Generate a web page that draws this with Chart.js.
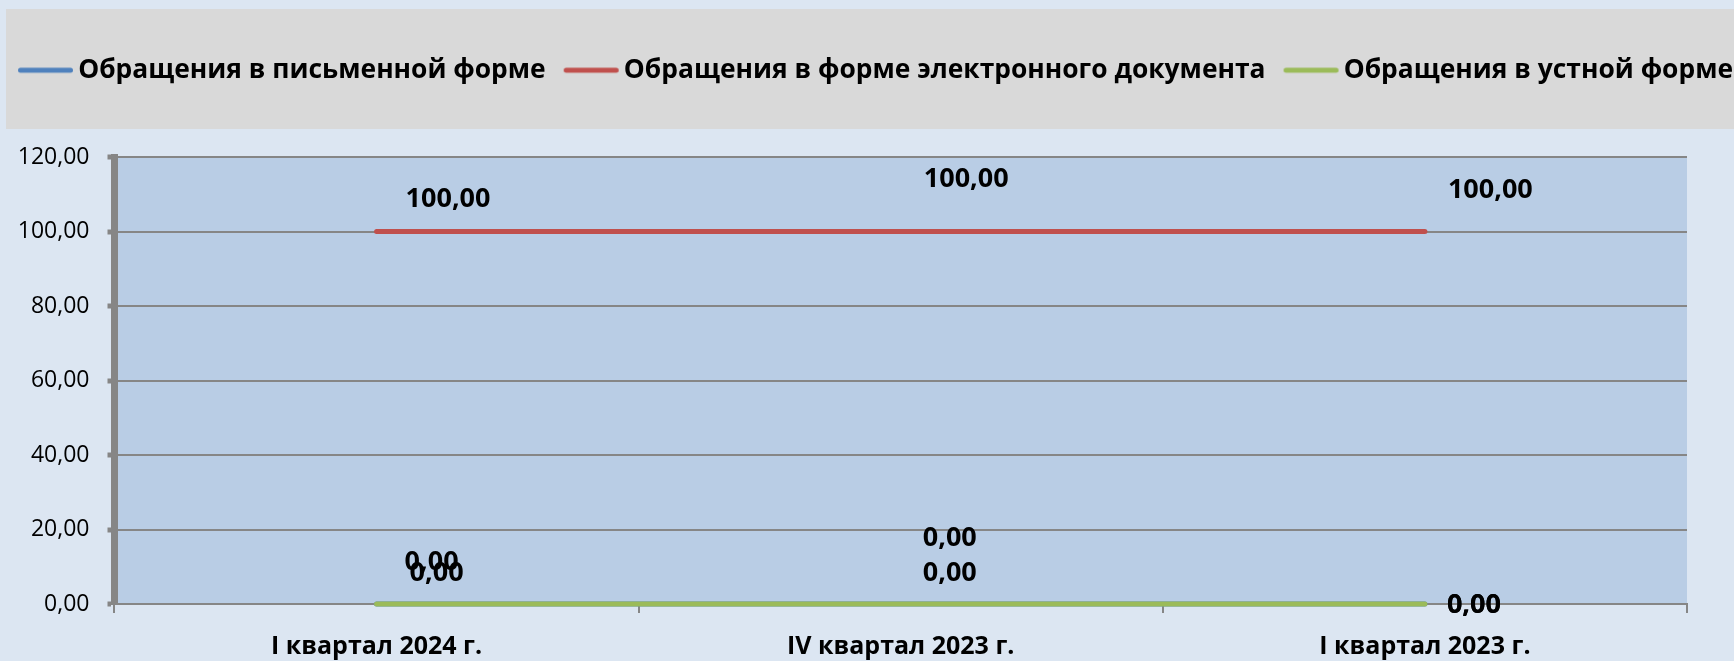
<!DOCTYPE html>
<html>
<head>
<meta charset="utf-8">
<script src="https://cdn.jsdelivr.net/npm/chart.js@4/dist/chart.umd.min.js"></script>
<style>
  html, body { margin: 0; padding: 0; background: #dce6f2; }
  #wrap { width: 1734px; height: 661px; }
</style>
</head>
<body>
<div id="wrap"><canvas id="c" width="1734" height="661"></canvas></div>
<script>
const categories = ['I квартал 2024 г.', 'IV квартал 2023 г.', 'I квартал 2023 г.'];
const seriesNames = ['Обращения в письменной форме', 'Обращения в форме электронного документа', 'Обращения в устной форме'];
const writtenValues = [0, 0, 0];
const electronicValues = [100, 100, 100];
const oralValues = [0, 0, 0];
const yTicks = [0, 20, 40, 60, 80, 100, 120];
const seriesColors = ['#4f81bd', '#c0504d', '#9bbb59'];

const fmt = v => v.toFixed(2).replace('.', ',');
const FONT = '"Open Sans", "Noto Sans", sans-serif';

// label offsets (px) relative to each point: [dx to left edge, dy to text centre]
const labelOffsets = [
  [[28, -42], [22, -66], [22, 1]],
  [[29, -32], [23, -52], [23, -41]],
  [[33, -31], [22, -31], [22, 1]]
];

// legend line sample drawn as small canvas (shifted so the gap to text matches)
function legendLine(color) {
  const c = document.createElement('canvas');
  c.width = 66; c.height = 10;
  const g = c.getContext('2d');
  g.strokeStyle = color;
  g.lineWidth = 5;
  g.lineCap = 'round';
  g.beginPath();
  g.moveTo(12.5, 5);
  g.lineTo(62.5, 5);
  g.stroke();
  return c;
}
const legendImages = seriesColors.map(legendLine);

const bgPlugin = {
  id: 'bg',
  beforeDraw(chart) {
    const ctx = chart.ctx;
    ctx.save();
    ctx.fillStyle = '#dce6f2';
    ctx.fillRect(0, 0, chart.width, chart.height);
    ctx.fillStyle = '#d9d9d9';
    ctx.fillRect(6, 9, chart.width - 6, 120);
    const a = chart.chartArea;
    ctx.fillStyle = '#b9cde5';
    ctx.fillRect(a.left, a.top, a.right - a.left, a.bottom - a.top);
    ctx.restore();
  }
};

const legendSpace = {
  id: 'legendSpace',
  beforeInit(chart) {
    const orig = chart.legend.fit;
    chart.legend.fit = function () {
      this.maxWidth = 2000;
      orig.bind(this)();
      this.height = 117;
    };
  },
  afterLayout(chart) {
    chart.legend.right = 2000;
    chart.legend.width = 2000 - chart.legend.left;
  }
};

const labelPlugin = {
  id: 'valueLabels',
  afterDatasetsDraw(chart) {
    const ctx = chart.ctx;
    ctx.save();
    ctx.font = 'bold 27px ' + FONT;
    ctx.fillStyle = '#000000';
    ctx.textAlign = 'left';
    ctx.textBaseline = 'middle';
    chart.data.datasets.forEach((ds, di) => {
      const meta = chart.getDatasetMeta(di);
      meta.data.forEach((pt, i) => {
        const off = labelOffsets[di][i];
        ctx.fillText(fmt(ds.data[i]), pt.x + off[0], pt.y + off[1]);
      });
    });
    ctx.restore();
  }
};

new Chart(document.getElementById('c'), {
  type: 'line',
  data: {
    labels: categories,
    datasets: [
      { label: seriesNames[0], data: writtenValues, borderColor: seriesColors[0], backgroundColor: seriesColors[0], borderWidth: 5, clip: false, order: 2 },
      { label: seriesNames[1], data: electronicValues, borderColor: seriesColors[1], backgroundColor: seriesColors[1], borderWidth: 5, clip: false, order: 1 },
      { label: seriesNames[2], data: oralValues, borderColor: seriesColors[2], backgroundColor: seriesColors[2], borderWidth: 5, clip: false, order: 0 }
    ]
  },
  options: {
    responsive: false,
    devicePixelRatio: 1,
    animation: false,
    layout: { padding: { top: 40, right: 47, bottom: 0, left: 0 } },
    elements: {
      line: { borderWidth: 5, borderCapStyle: 'round', tension: 0 },
      point: { radius: 0, hoverRadius: 0 }
    },
    plugins: {
      tooltip: { enabled: false },
      legend: {
        position: 'top',
        align: 'start',
        labels: {
          usePointStyle: true,
          pointStyleWidth: 48,
          padding: 17,
          color: '#000000',
          font: { family: FONT, size: 26.4, weight: 'bold' },
          sort: (a, b) => a.datasetIndex - b.datasetIndex,
          generateLabels(chart) {
            const items = Chart.defaults.plugins.legend.labels.generateLabels(chart);
            items.forEach(it => { it.pointStyle = legendImages[it.datasetIndex]; });
            return items;
          }
        }
      }
    },
    scales: {
      x: {
        offset: true,
        grid: { display: true, drawOnChartArea: false, drawTicks: true, tickLength: 9, color: '#868686', lineWidth: 2, offset: true },
        border: { display: true, color: '#868686', width: 2 },
        ticks: { color: '#000000', font: { family: FONT, size: 25, weight: 'bold' }, padding: 19, maxRotation: 0, autoSkip: false },
        afterFit(s) { s.height = 57; }
      },
      y: {
        min: 0, max: 120,
        afterBuildTicks(s) { s.ticks = yTicks.map(v => ({ value: v })); },
        grid: { color: '#868686', lineWidth: 2, tickLength: 7, tickWidth: 5, tickColor: '#868686' },
        border: { display: true, color: '#868686', width: 7 },
        ticks: { color: '#000000', font: { family: FONT, size: 23 }, padding: 18, callback: v => fmt(v) },
        afterFit(s) { s.width = 114.5; }
      }
    }
  },
  plugins: [bgPlugin, legendSpace, labelPlugin]
});
</script>
</body>
</html>
